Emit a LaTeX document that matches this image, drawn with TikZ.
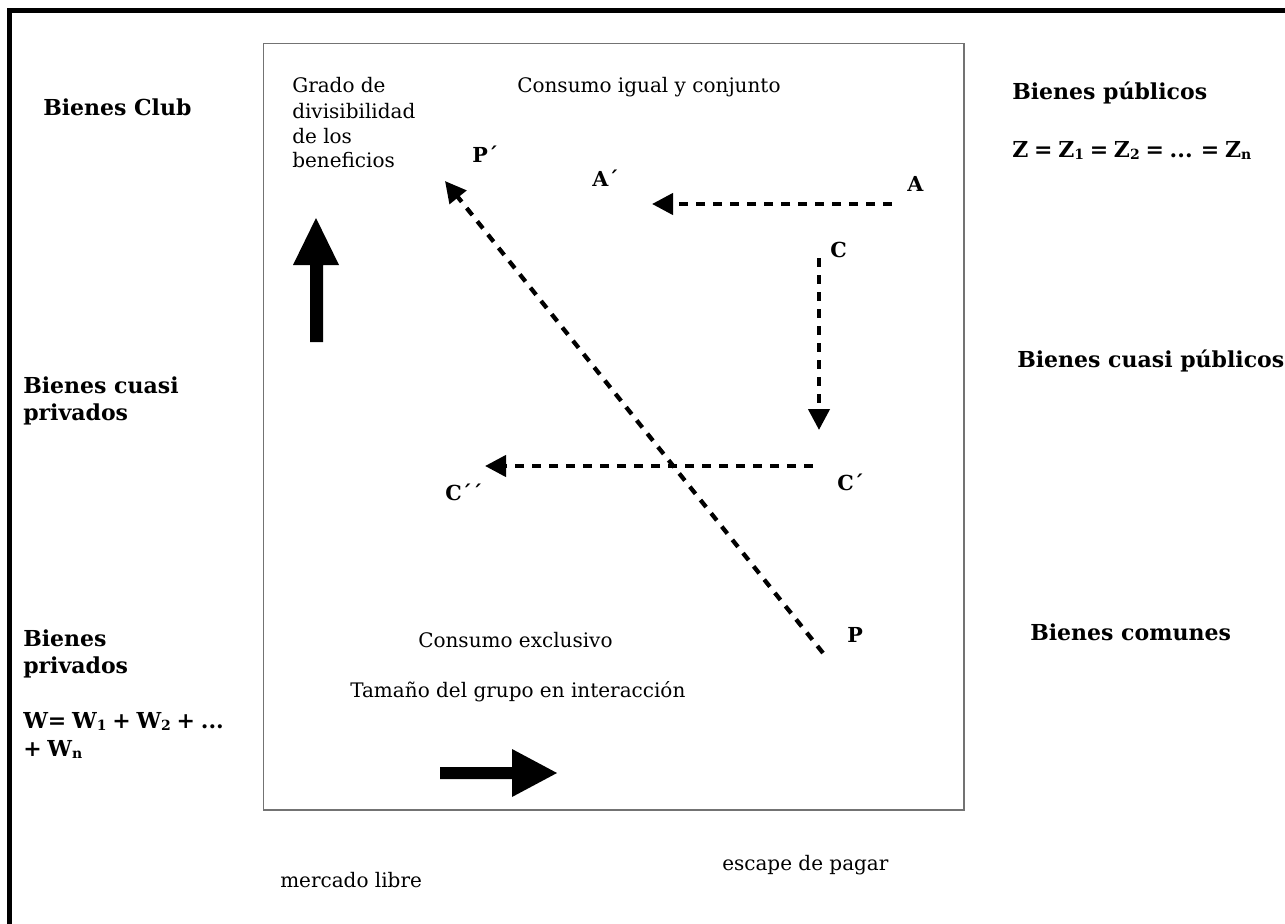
\documentclass[tikz,border=0pt]{standalone}
\usepackage{fontspec}
\setmainfont{DejaVu Serif}
\newfontfamily\eqfont{DejaVu Serif}[WordSpace=0.75]
\usetikzlibrary{arrows.meta}
\newcommand\mysubs[1]{\raisebox{-0.12em}{\fontsize{10.5pt}{10.5pt}\selectfont #1}}
\begin{document}
\begin{tikzpicture}[x=0.75pt,y=-0.75pt,
  reg/.style={anchor=base west, inner sep=0pt, font=\fontsize{15pt}{18pt}\selectfont},
  bld/.style={anchor=base west, inner sep=0pt, font=\fontsize{16.5pt}{20pt}\selectfont\bfseries},
  eqn/.style={anchor=base west, inner sep=0pt, font=\eqfont\fontsize{16.5pt}{20pt}\selectfont\bfseries},
  ptlabel/.style={anchor=base west, inner sep=0pt, font=\fontsize{15.5pt}{18pt}\selectfont\bfseries},
  dasharrow/.style={line width=3.2pt, dash pattern=on 6.75pt off 6pt, -{Triangle[length=15.75pt,width=15.75pt]}},
  bigarrow/.style={fill=black, draw=none},
  frame/.style={line width=3.75pt, black},
  innerbox/.style={line width=1.2pt, draw=black!55}]
\useasboundingbox (0,0) rectangle (1285,924);
\fill[white] (0,0) rectangle (1285,924);
% outer frame (top and left visible)
\draw[frame] (9.5,924) -- (9.5,10.5) -- (1285,10.5);
% inner box
\draw[innerbox] (263.5,43.5) rectangle (964,810);

% left labels
\node[bld] (club) at (43,116) {Bienes Club};
\node[bld] (cpriv1) at (23,393) {Bienes cuasi};
\node[bld] (cpriv2) at (23,420) {privados};
\node[bld] (priv1) at (23,646) {Bienes};
\node[bld] (priv2) at (23,673) {privados};
\node[eqn] (w1) at (23,728) {W= W\mysubs{1} + W\mysubs{2} + ...};
\node[eqn] (w2) at (23,756) {+ W\mysubs{n}};

% right labels
\node[bld] (pub) at (1012,99) {Bienes públicos};
\node[eqn] (zeq) at (1012,157) {Z = Z\mysubs{1} = Z\mysubs{2} = ... = Z\mysubs{n}};
\node[bld] (cpub) at (1017,367) {Bienes cuasi públicos};
\node[bld] (com) at (1030,640) {Bienes comunes};

% inner texts
\node[reg] (g1) at (292,93) {Grado de};
\node[reg] (g2) at (292,118) {divisibilidad};
\node[reg] (g3) at (292,143) {de los};
\node[reg] (g4) at (292,167) {beneficios};
\node[reg] (igual) at (517,93) {Consumo igual y conjunto};
\node[reg] (excl) at (418,647) {Consumo exclusivo};
\node[reg] (tam) at (350,697) {Tamaño del grupo en interacción};
\node[reg] (merc) at (280,887) {mercado libre};
\node[reg] (esc) at (722,870) {escape de pagar};

% point labels
\node[ptlabel] (Pp) at (472,162) {P´};
\node[ptlabel] (Ap) at (592,186) {A´};
\node[ptlabel] (A) at (907,191) {A};
\node[ptlabel] (C) at (830,257) {C};
\node[ptlabel] (Cp) at (837,490) {C´};
\node[ptlabel] (Cpp) at (445,500) {C´´};
\node[ptlabel] (P) at (847,642) {P};

% dashed arrow end points
\coordinate (a0) at (892,204);
\coordinate (a1) at (652,204);
\coordinate (c0) at (819,258);
\coordinate (c1) at (819,430);
\coordinate (d0) at (813,466);
\coordinate (d1) at (485,466);
\coordinate (p0) at (823,653);
\coordinate (p1) at (445,181);

\draw[dasharrow] (a0) -- (a1);
\draw[dasharrow] (c0) -- (c1);
\draw[dasharrow] (d0) -- (d1);
\draw[dasharrow] (p0) -- (p1);

% thick arrows
\fill[bigarrow] (310,342) -- (310,265) -- (293,265) -- (316,218) -- (339,265) -- (323,265) -- (323,342) -- cycle;
\fill[bigarrow] (440,767) -- (512,767) -- (512,749) -- (557,773) -- (512,797) -- (512,779) -- (440,779) -- cycle;
\end{tikzpicture}
\end{document}
